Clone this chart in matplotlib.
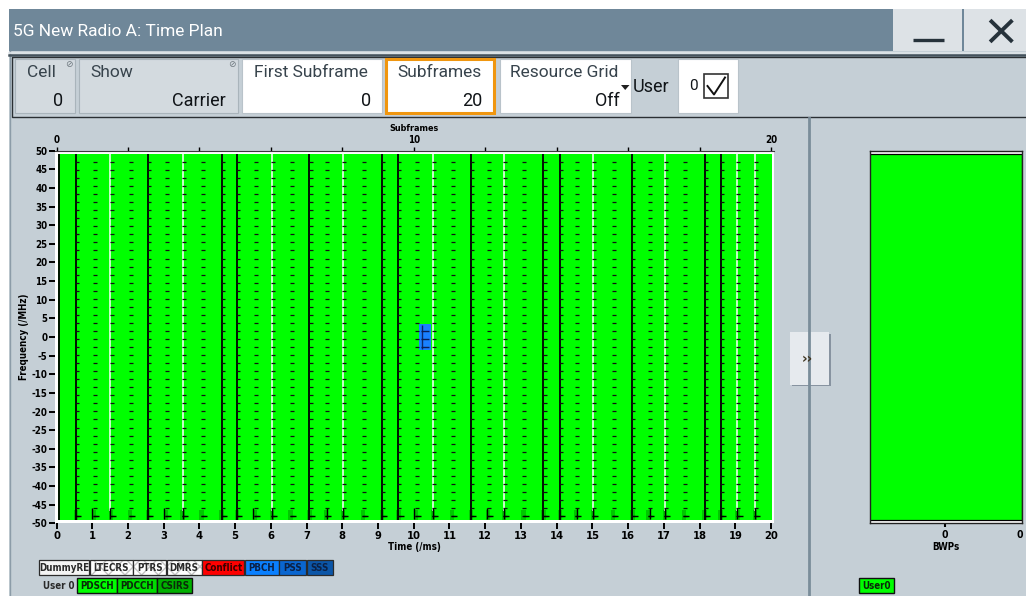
import numpy as np
import matplotlib.pyplot as plt
from matplotlib.patches import Rectangle, Polygon

plt.rcParams['axes.unicode_minus'] = False

W, H = 1026, 596
NARROW = dict(family=['DejaVu Sans'], stretch='condensed')
UIFONT = ['Roboto', 'DejaVu Sans']

# ---- time plan data (time in ms, frequency in MHz) ----
x_ticks = list(range(0, 21))
y_ticks = list(range(-50, 51, 5))
sf_ticks = list(range(0, 21, 2))
sf_labels = ['0', '', '', '', '', '10', '', '', '', '', '20']
carrier_edge = 49.14          # 273 RB * 0.36 MHz / 2
rb_step = 2.16                # one dash row per 6 RB
black_lines = [0.08, 0.55, 2.57, 4.62, 5.05, 7.08, 9.11, 9.57, 11.60,
               13.63, 14.09, 16.12, 18.14, 18.59]
white_lines = [1.51, 3.53, 6.03, 8.02, 10.53, 12.53, 15.02, 17.03, 19.06, 19.55]
slot_cols = [0.55, 1.05, 1.53, 2.05, 2.57, 3.07, 3.53, 4.06, 4.62, 5.05,
             5.55, 6.03, 6.55, 7.08, 7.55, 8.02, 8.57, 9.11, 9.57, 10.07,
             10.53, 11.07, 11.60, 12.08, 12.53, 13.07, 13.63, 14.09, 14.55,
             15.02, 15.57, 16.12, 16.57, 17.03, 17.57, 18.14, 18.59, 19.06, 19.55]
bottom_marks = [0.98, 3.01, 5.51, 7.56, 10.02, 12.06, 14.56, 16.60]
pbch_t = (10.16, 10.47)
pbch_f = (-3.6, 3.6)

legend_row1 = ['DummyRE', 'LTECRS', 'PTRS', 'DMRS', 'Conflict', 'PBCH', 'PSS', 'SSS']
legend_row1_col = ['#f4f4f4', 'white', 'white', 'white', '#ff0000', '#0a80ff', '#0a66d0', '#0b56a8']
legend_row2 = ['PDSCH', 'PDCCH', 'CSIRS']
legend_row2_col = ['#00ff00', '#00dd00', '#00b000']

toolbar_labels = ['Cell', 'Show', 'First Subframe', 'Subframes', 'Resource Grid']
toolbar_values = ['0', 'Carrier', '0', '20', 'Off']

# ---- colours ----
TITLE_BG = '#6f8799'
PANEL_BG = '#c5cfd6'
GREY_BOX = '#d3dadf'
GREEN = '#00ff00'


def rect(ax, x0, y0, x1, y1, fc, ec='none', lw=1.0, **kw):
    ax.add_patch(Rectangle((x0, y0), x1 - x0, y1 - y0, fc=fc, ec=ec, lw=lw, **kw))


def bold_ticks(labels, size):
    for lab in labels:
        lab.set_fontweight('bold')
        lab.set_family(NARROW['family'])
        lab.set_fontstretch(NARROW['stretch'])
        lab.set_fontsize(size)


fig = plt.figure(figsize=(W / 100, H / 100), dpi=100)
fig.patch.set_facecolor('white')
ui = fig.add_axes([0, 0, 1, 1])
ui.set_xlim(0, W)
ui.set_ylim(H, 0)
ui.axis('off')

# window frame
rect(ui, 9.3, 9.3, W + 2, 51, TITLE_BG)
rect(ui, 9.3, 51, W + 2, H + 2, PANEL_BG)
ui.plot([9.5, 9.5], [51, H], color='#8c9ca8', lw=1)
ui.text(13, 31, '5G New Radio A: Time Plan', color='white', fontsize=12.5,
        family=UIFONT, va='center', ha='left')
# min / close buttons
rect(ui, 893.3, 9.3, 961.7, 50.7, '#dde2e6')
rect(ui, 964, 9.3, W + 2, 50.7, '#dde2e6')
ui.plot([913, 944], [39.5, 39.5], color='#26323b', lw=2.4, solid_capstyle='butt')
ui.plot([991.5, 1011], [21.5, 40.5], color='#26323b', lw=2.8)
ui.plot([991.5, 1011], [40.5, 21.5], color='#26323b', lw=2.8)

# toolbar
ui.plot([9.3, W], [52.5, 52.5], color='#dfe5e9', lw=1.2)
ui.plot([9.3, W], [55.3, 55.3], color='#44525c', lw=1.8)
rect(ui, 11.7, 56.7, W + 5, 117, 'none', ec='#2a2f33', lw=1.0)

boxes = [(15, 75, GREY_BOX, '#a9b4bb'), (79, 238, GREY_BOX, '#a9b4bb'),
         (242.3, 381.7, 'white', '#b9c3ca'), (385.5, 494, 'white', '#f0960f'),
         (500, 630.7, 'white', '#b9c3ca')]
lab_x = [26.7, 90, 254, 397, 510]
val_x = [63, 226, 371, 482, 620]
for (x0, x1, fc, ec), lab, val, lx, vx in zip(boxes, toolbar_labels, toolbar_values, lab_x, val_x):
    lw = 2.2 if ec == '#f0960f' else 0.8
    rect(ui, x0, 59.3, x1, 113.3, fc, ec=ec, lw=lw)
    ui.text(lx, 72.5, lab, fontsize=12.5, family=UIFONT, color='#37434c', va='center', ha='left')
    ui.text(vx, 101, val, fontsize=13, family=UIFONT, color='#101418', va='center', ha='right')
for ix, iy in [(68.5, 64.5), (232, 64.5)]:
    ui.text(ix, iy, '\u2298', fontsize=6.5, color='#6d777e', ha='center', va='center')
ui.add_patch(Polygon([(621, 85), (629.5, 85), (625.2, 90)], closed=True, fc='#202020', ec='none'))
ui.text(633, 86.5, 'User', fontsize=13, family=UIFONT, color='#101418', va='center', ha='left')
rect(ui, 677.7, 59.3, 737.7, 113.3, 'white', ec='#b9c3ca', lw=0.8)
ui.text(693, 86.5, '0', fontsize=11, family=UIFONT, color='#101418', va='center', ha='center')
ui.add_patch(Rectangle((704, 74), 24, 24, fc='white', ec='#333333', lw=1.2))
ui.plot([707.5, 714, 725], [86, 94.5, 77.5], color='#111111', lw=1.4)

# splitter and expand button
ui.plot([809.3, 809.3], [117.5, H], color='#7a8d9a', lw=2.0)
rect(ui, 791.5, 333.5, 830.5, 386, '#8793a0')
rect(ui, 790, 331.7, 829, 384.5, '#e6eaee')
ui.text(807, 359, '\u203a\u203a', fontsize=10, color='#3d3420', ha='center', va='center',
        family=['DejaVu Sans'], fontweight='bold')

# legend boxes
row1_x = [39.3, 90, 133.3, 166.7, 202.3, 245, 279.3, 306.7, 333.3]
for i, (name, col) in enumerate(zip(legend_row1, legend_row1_col)):
    x0, x1 = row1_x[i], row1_x[i + 1] - 0.6
    hatched = name in ('LTECRS', 'PTRS', 'DMRS')
    if hatched:
        ui.add_patch(Rectangle((x0, 560), x1 - x0, 15, fc=col, ec='#c3c3c3', lw=0, hatch='xx'))
    rect(ui, x0, 560, x1, 575, 'none' if hatched else col, ec='#2b2b2b', lw=0.9)
    tc = '#3a0000' if name == 'Conflict' else '#0c2146' if name in ('PBCH', 'PSS', 'SSS') else '#2a2a2a'
    ui.text((x0 + x1) / 2, 567.8, name, fontsize=7, fontweight='bold',
            color=tc, ha='center', va='center', **NARROW)
ui.text(42.7, 586, 'User 0', fontsize=7, fontweight='bold',
        color='#2a2a2a', ha='left', va='center', **NARROW)
row2_x = [77.3, 117.3, 157.3, 192.7]
for i, (name, col) in enumerate(zip(legend_row2, legend_row2_col)):
    x0, x1 = row2_x[i], row2_x[i + 1] - 0.6
    rect(ui, x0, 578.3, x1, 593.3, col, ec='#111111', lw=1.0)
    ui.text((x0 + x1) / 2, 586, name, fontsize=7, fontweight='bold',
            color='#0a2a0a', ha='center', va='center', **NARROW)
rect(ui, 859, 578.3, 894, 593.3, GREEN, ec='#111111', lw=1.0)
ui.text(876.5, 586, 'User0', fontsize=7, fontweight='bold',
        color='#0a2a0a', ha='center', va='center', **NARROW)

# ---- main time plan axes ----
px0, px20 = 56.5, 771.0
ppms = (px20 - px0) / 20
ax_l, ax_r, ax_t, ax_b = 55.0, 773.5, 150.7, 523.3
ax = fig.add_axes([ax_l / W, 1 - ax_b / H, (ax_r - ax_l) / W, (ax_b - ax_t) / H])
ax.set_xlim((ax_l - px0) / ppms, (ax_r - px0) / ppms)
ax.set_ylim(-50, 50)
ax.set_facecolor('white')
for s in ['left', 'right', 'bottom']:
    ax.spines[s].set_visible(False)
ax.spines['top'].set_color('#3a3a3a')
ax.spines['top'].set_linewidth(0.8)

ax.add_patch(Rectangle((0.03, -carrier_edge), 20.0, 2 * carrier_edge, fc=GREEN, ec='none'))
rows = carrier_edge - rb_step * np.arange(1, 46)
for c in slot_cols:
    ax.add_patch(Rectangle((c - 0.06, -carrier_edge), 0.12, 2.6, fc='#00c800', ec='none'))
ax.vlines(white_lines, -46.7, carrier_edge, color='white', lw=1.1)
ax.vlines(black_lines, -carrier_edge, carrier_edge, color='black', lw=1.3)
ax.vlines(bottom_marks + white_lines, -carrier_edge + 0.3, -45.8, color='black', lw=1.0)
ax.add_patch(Rectangle((pbch_t[0], pbch_f[0]), pbch_t[1] - pbch_t[0], pbch_f[1] - pbch_f[0],
                       fc='#1a80ff', ec='none', zorder=3))
ax.vlines([pbch_t[0] + 0.06], pbch_f[0] + 0.3, pbch_f[1] - 0.3, color='#0a2a6a', lw=1.0, zorder=4)
in_pbch = rows[(rows > pbch_f[0]) & (rows < pbch_f[1])]
ax.hlines(in_pbch, pbch_t[0] + 0.04, pbch_t[1] - 0.03, color='#0a1f55', lw=1.0, zorder=4)
xs = np.repeat(slot_cols, len(rows))
ys = np.tile(rows, len(slot_cols))
ax.plot(xs + 0.03, ys, ls='none', marker='_', ms=3.0, mew=0.9, color='#111111', zorder=5)
ax.plot(np.array(slot_cols) + 0.06, np.full(len(slot_cols), rows[-1]), ls='none',
        marker='_', ms=5, mew=1.0, color='black', zorder=5)

ax.set_xticks(x_ticks)
ax.set_yticks(y_ticks)
ax.tick_params(axis='x', direction='out', length=4, width=1.4, pad=1.5, colors='black')
ax.tick_params(axis='y', direction='out', length=4, width=1.4, pad=1.5, colors='black')
bold_ticks(ax.get_xticklabels(), 8)
bold_ticks(ax.get_yticklabels(), 7)
ax.set_xlabel('Time (/ms)', fontsize=7, fontweight='bold', labelpad=1, **NARROW)
ax.set_ylabel('Frequency (/MHz)', fontsize=7, fontweight='bold', **NARROW)
ax.yaxis.set_label_coords((29 - ax_l) / (ax_r - ax_l), 0.5)

top = ax.secondary_xaxis('top')
top.set_xticks(sf_ticks)
top.set_xticklabels(sf_labels)
top.tick_params(direction='out', length=3, width=1.0, pad=1)
bold_ticks(top.get_xticklabels(), 7)
top.spines['top'].set_visible(False)
top.set_xlabel('Subframes', fontsize=6.5, fontweight='bold', labelpad=3, **NARROW)

# ---- BWP panel ----
bx_l, bx_r = 870.0, 1021.7
ax2 = fig.add_axes([bx_l / W, 1 - ax_b / H, (bx_r - bx_l) / W, (ax_b - ax_t) / H])
ax2.set_xlim(-1, 1.03)
ax2.set_ylim(-50, 50)
ax2.set_facecolor('white')
ax2.bar([0], [2 * carrier_edge], bottom=-carrier_edge, width=2.06, color=GREEN,
        edgecolor='black', lw=0.9)
for s in ax2.spines.values():
    s.set_color('#222222')
    s.set_linewidth(1.0)
ax2.set_yticks([])
ax2.set_xticks([0])
ax2.set_xticklabels(['0'])
ax2.tick_params(axis='x', direction='out', length=3, width=1.5, pad=2)
bold_ticks(ax2.get_xticklabels(), 7.5)
ax2.set_xlabel('BWPs', fontsize=7, fontweight='bold', labelpad=1, **NARROW)
ui.text(1020, 535.5, '0', fontsize=7.5, fontweight='bold', ha='center', va='center', **NARROW)

fig.savefig('out.png', dpi=100)
